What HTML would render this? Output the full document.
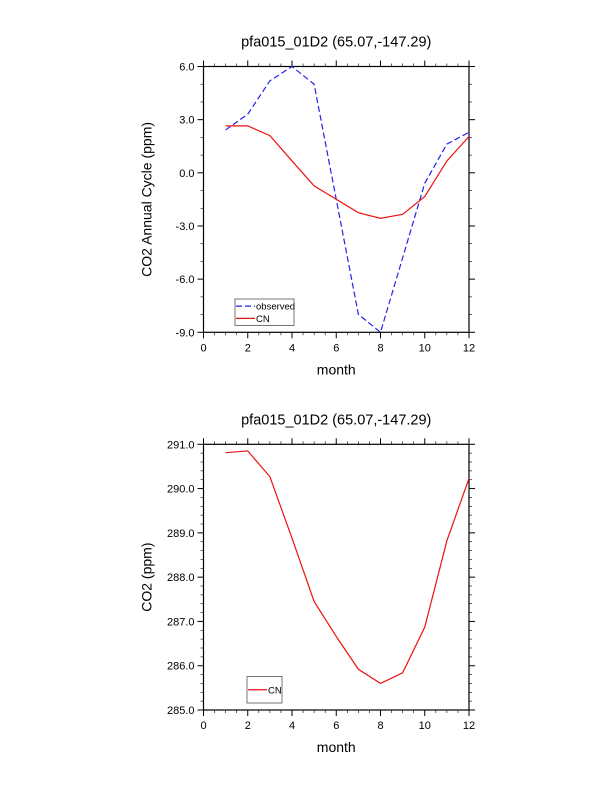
<!DOCTYPE html>
<html><head><meta charset="utf-8"><style>
body{margin:0;background:#fff;}
svg{display:block;font-family:"Liberation Sans",sans-serif;}
</style></head><body>
<svg id="s" width="612" height="792" xmlns="http://www.w3.org/2000/svg"></svg>
<script>
const months=[1,2,3,4,5,6,7,8,9,10,11,12];
const observed=[2.42,3.31,5.19,6.0,5.0,-1.5,-7.99,-9.0,-4.8,-0.59,1.62,2.29];
const cnCycle=[2.65,2.65,2.1,0.67,-0.74,-1.49,-2.25,-2.57,-2.34,-1.34,0.67,2.05];
const cnCO2=[290.81,290.85,290.27,288.88,287.45,286.66,285.92,285.6,285.84,286.87,288.82,290.23];
const xTicks=[0,2,4,6,8,10,12];
const yTicks1=[6,3,0,-3,-6,-9];
const yTicks2=[291,290,289,288,287,286,285];
const title="pfa015_01D2 (65.07,-147.29)";
const svg=document.getElementById('s');
const NS="http://www.w3.org/2000/svg";
function mk(tag,attrs,parent){const e=document.createElementNS(NS,tag);for(const k in attrs)e.setAttribute(k,attrs[k]);(parent||svg).appendChild(e);return e;}
function plot(L,T,R,B,ymin,ymax,yTicks,yMinorStep,series,ylabel,legendBox,name){
  const g=mk('g',{});
  
  
  const sx=v=>L+(v-0)/12*(R-L);
  const sy=v=>B-(v-ymin)/(ymax-ymin)*(B-T);
  // ticks
  for(let v=0;v<=12;v+=0.5){const maj=xTicks.includes(v);const len=maj?6:3;
    mk('line',{x1:sx(v),x2:sx(v),y1:B,y2:B+len,stroke:'#000','stroke-width':maj?1:0.6},g);
    mk('line',{x1:sx(v),x2:sx(v),y1:T,y2:T-len,stroke:'#000','stroke-width':maj?1:0.6},g);}
  const nMin=Math.round((ymax-ymin)/yMinorStep);
  for(let i=0;i<=nMin;i++){const v=ymin+i*yMinorStep;const maj=yTicks.some(t=>Math.abs(t-v)<1e-6);const len=maj?6:3;
    mk('line',{x1:L,x2:L-len,y1:sy(v),y2:sy(v),stroke:'#000','stroke-width':maj?1:0.6},g);
    mk('line',{x1:R,x2:R+len,y1:sy(v),y2:sy(v),stroke:'#000','stroke-width':maj?1:0.6},g);}
  mk('rect',{x:L,y:T,width:R-L,height:B-T,fill:'none',stroke:'#000','stroke-width':1.2},g);
  xTicks.forEach(v=>{const t=mk('text',{x:sx(v),y:B+19,'font-size':11,'text-anchor':'middle'},g);t.textContent=v;
    });
  yTicks.forEach(v=>{const t=mk('text',{x:L-9,y:sy(v)+4,'font-size':11,'text-anchor':'end'},g);t.textContent=v.toFixed(1);
    });
  series.forEach(s=>{const p=mk('polyline',{points:months.map((m,i)=>sx(m)+','+sy(s.vals[i])).join(' '),fill:'none',stroke:s.color,'stroke-width':1.2,'stroke-dasharray':s.dash||'none'},g);
    });
  const tt=mk('text',{x:(L+R)/2,y:T-20,'font-size':14.5,'text-anchor':'middle'},g);tt.textContent=title;
  
  const xl=mk('text',{x:(L+R)/2,y:B+42,'font-size':14,'text-anchor':'middle'},g);xl.textContent='month';
  
  const yl=mk('text',{x:0,y:0,'font-size':14,'text-anchor':'middle',transform:`translate(${L-52},${(T+B)/2}) rotate(-90)`},g);yl.textContent=ylabel;
  
  // legend
  const lg=mk('g',{},g);
  
  mk('rect',{x:legendBox.x,y:legendBox.y,width:legendBox.w,height:legendBox.h,fill:'#fff',stroke:'#555','stroke-width':0.8},lg);
  legendBox.items.forEach((s,i)=>{const yy=legendBox.y+legendBox.h*(i+0.5)/legendBox.items.length+ (legendBox.items.length>1?(i==0?0.5:-0.5):0);
    mk('line',{x1:legendBox.x+1,x2:legendBox.x+legendBox.lw,y1:yy,y2:yy,stroke:s.color,'stroke-width':1.2,'stroke-dasharray':s.dash||'none'},lg);
    const t=mk('text',{x:legendBox.x+legendBox.lw+1,y:yy+3.5,'font-size':9.5},lg);t.textContent=s.label;
    });
}
const obsS={name:'observed',label:'observed',vals:observed,color:'#2222ee',dash:'6,3'};
const cnS={name:'cn',label:'CN',vals:cnCycle,color:'#ee1111'};
const cn2={name:'cn',label:'CN',vals:cnCO2,color:'#ee1111'};
plot(203.5,66.5,469,332.3,-9,6,yTicks1,1,[obsS,cnS],'CO2 Annual Cycle (ppm)',{x:235,y:299,w:59,h:26.5,lw:20,items:[obsS,cnS]},'annual-cycle-plot');
plot(203.5,444.3,469,710,285,291,yTicks2,0.2,[cn2],'CO2 (ppm)',{x:247,y:676.5,w:35,h:26.5,lw:20,items:[cn2]},'co2-plot');
</script>
</body></html>
